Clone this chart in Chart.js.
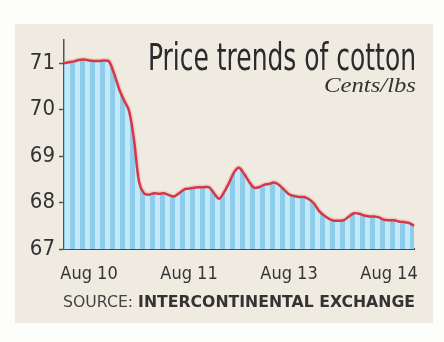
<!DOCTYPE html>
<html>
<head>
<meta charset="utf-8">
<script src="https://cdn.jsdelivr.net/npm/chart.js@4.4.1/dist/chart.umd.min.js"></script>
<style>
  html, body { margin: 0; padding: 0; background: #fdfdfc; }
  #wrap { position: relative; width: 444px; height: 342px; overflow: hidden; }
  #panel { position: absolute; left: 15px; top: 24px; width: 418px; height: 299px; background: #efebe1; }
  canvas { position: absolute; left: 0; top: 0; }
  .txt { position: absolute; white-space: nowrap; line-height: 1; transform-origin: 0 0; }
  #title { font-family: "Liberation Sans Narrow", "DejaVu Sans Condensed", "Liberation Sans", sans-serif; font-size: 37px; color: #2a2a2a; left: 148px; top: 39px; }
  #unit { font-family: "Liberation Serif", "DejaVu Serif", serif; font-style: italic; font-size: 21px; color: #333; left: 324px; top: 75px; }
  #source { font-family: "DejaVu Sans", "Verdana", sans-serif; font-size: 15px; color: #444; left: 63px; top: 295px; }
  #source b { color: #333; }
</style>
</head>
<body>
<div id="wrap">
  <div id="panel"></div>
  <canvas id="c" width="444" height="342"></canvas>
  <div class="txt" id="title">Price trends of cotton</div>
  <div class="txt" id="unit">Cents/lbs</div>
  <div class="txt" id="source">SOURCE: <b>INTERCONTINENTAL EXCHANGE</b></div>
</div>
<script>
// ---- data ----
const tickLabels = ['Aug 10', 'Aug 11', 'Aug 13', 'Aug 14'];
const tickIndex = [5, 25, 45, 65];
const prices = [
  71.00, 71.02, 71.04, 71.07, 71.08, 71.06, 71.05, 71.05, 71.06, 71.04,
  70.78, 70.45, 70.20, 69.98, 69.35, 68.45, 68.20, 68.17, 68.20, 68.19,
  68.20, 68.16, 68.13, 68.20, 68.28, 68.30, 68.32, 68.33, 68.33, 68.33,
  68.20, 68.08, 68.22, 68.42, 68.65, 68.75, 68.62, 68.45, 68.32, 68.33,
  68.38, 68.40, 68.43, 68.38, 68.28, 68.18, 68.14, 68.12, 68.12, 68.07,
  67.98, 67.82, 67.72, 67.65, 67.61, 67.61, 67.62, 67.70, 67.77, 67.76,
  67.72, 67.70, 67.70, 67.68, 67.63, 67.62, 67.62, 67.59, 67.58, 67.56,
  67.50
];
const yMin = 67, yMax = 71.5, yStep = 0.5;

// category labels built from the tick arrays
const labels = prices.map((_, i) => {
  const k = tickIndex.indexOf(i);
  return k >= 0 ? tickLabels[k] : '';
});

// striped fill pattern
const pc = document.createElement('canvas');
pc.width = 10; pc.height = 4;
const px = pc.getContext('2d');
px.fillStyle = '#c4e8f8'; px.fillRect(0, 0, 10, 4);
px.fillStyle = '#8ccdec'; px.fillRect(0, 0, 5, 4);
const ctx = document.getElementById('c').getContext('2d');
const stripes = ctx.createPattern(pc, 'repeat');

const condensed = '"Liberation Sans Narrow", "DejaVu Sans Condensed", "Liberation Sans", sans-serif';

new Chart(ctx, {
  type: 'line',
  data: {
    labels: labels,
    datasets: [
      {
        data: prices,
        borderColor: '#d63745',
        borderWidth: 2.5,
        backgroundColor: stripes,
        fill: 'start',
        pointRadius: 0,
        tension: 0.3,
        order: 1
      },
      {
        data: prices,
        borderColor: 'rgba(235,140,150,0.28)',
        borderWidth: 5.5,
        fill: false,
        pointRadius: 0,
        tension: 0.3,
        order: 2
      }
    ]
  },
  options: {
    responsive: false,
    animation: false,
    events: [],
    layout: { padding: { left: 24, right: 30, top: 40, bottom: 58 } },
    plugins: { legend: { display: false }, tooltip: { enabled: false } },
    scales: {
      x: {
        offset: false,
        afterFit: (s) => { s.height = 35; },
        grid: { display: false },
        border: { display: true, color: '#4a4a4a', width: 2 },
        ticks: {
          autoSkip: false, maxRotation: 0, minRotation: 0, padding: 7,
          color: '#333', font: { family: condensed, size: 18 }
        }
      },
      y: {
        min: yMin, max: yMax,
        afterFit: (s) => { s.width = 40; },
        grid: { drawOnChartArea: false, drawTicks: true, tickLength: 5, tickColor: '#555', tickWidth: 1.5 },
        border: { display: true, color: '#555', width: 1.5 },
        ticks: {
          stepSize: yStep, padding: 4, color: '#333',
          font: { family: condensed, size: 22 },
          callback: (v) => Number.isInteger(v) ? String(v) : ''
        }
      }
    }
  }
});

// fit HTML texts to the reference widths
function fit(id, w) {
  const el = document.getElementById(id);
  const r = el.getBoundingClientRect().width;
  el.style.transform = 'scaleX(' + (w / r) + ')';
}
fit('title', 268);
fit('unit', 92);
fit('source', 352);
</script>
</body>
</html>
